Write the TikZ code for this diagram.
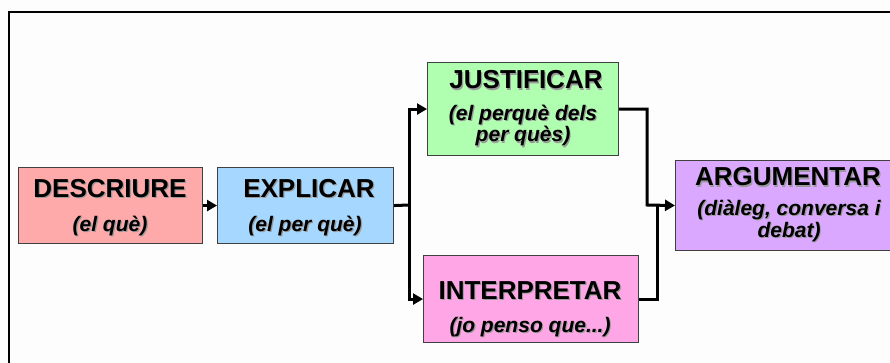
\documentclass[tikz,border=0pt]{standalone}
\usepackage{fontspec}
\setmainfont{Liberation Sans}
\usetikzlibrary{arrows.meta}
\definecolor{bgc}{HTML}{FDFDFD}
\definecolor{boxline}{HTML}{404040}
\definecolor{cdesc}{HTML}{FFAAAA}
\definecolor{cexpl}{HTML}{A6D8FF}
\definecolor{cjust}{HTML}{B0FFB0}
\definecolor{cinterp}{HTML}{FFA6E6}
\definecolor{carg}{HTML}{DAA8FF}
\definecolor{shadowc}{HTML}{9A9A9A}
\newcommand\shd[1]{\leavevmode\rlap{\raisebox{-1.2pt}{\hspace{1.2pt}\textcolor{shadowc}{#1}}}#1}
\newcommand\ttl[1]{\fontsize{26}{28}\selectfont\bfseries\shd{#1}}
\newcommand\sbtf{\fontsize{21}{17}\selectfont\bfseries\itshape}
\tikzset{
  box/.style={draw=boxline, line width=1.1pt, anchor=north west, inner sep=0pt},
  title/.style={anchor=base, inner sep=0pt},
  sub/.style={anchor=base, inner sep=0pt, align=center, font=\sbtf},
  conn/.style={line width=3pt, draw=black},
  arr/.style={conn, -{Triangle[length=10pt,width=11pt]}},
}
\begin{document}
\begin{tikzpicture}[x=1pt,y=-1pt]
\useasboundingbox (0,0) rectangle (890,363);
\fill[bgc] (0,0) rectangle (890,363);
\draw[line width=2.2pt] (9,370) -- (9,12) -- (895,12);
% boxes
\node[box, fill=cdesc, minimum width=184pt, minimum height=76pt] (desc) at (18,167) {};
\node[box, fill=cexpl, minimum width=176pt, minimum height=76pt] (expl) at (217,167) {};
\node[box, fill=cjust, minimum width=191pt, minimum height=93pt] (just) at (427,62) {};
\node[box, fill=cinterp, minimum width=215pt, minimum height=87pt] (interp) at (423,255) {};
\node[box, fill=carg, minimum width=230pt, minimum height=90pt] (arg) at (675,160) {};
% texts
\node[title] (desct) at (110,197) {\ttl{DESCRIURE}};
\node[sub] (descs) at (110,231) {\shd{(el què)}};
\node[title] (explt) at (309,197) {\ttl{EXPLICAR}};
\node[sub] (expls) at (305,231) {\shd{(el per què)}};
\node[title] (justt) at (526,89) {\ttl{JUSTIFICAR}};
\node[sub] (justs) at (523,142) {\shd{(el perquè dels}\\\shd{per quès)}};
\node[title] (interpt) at (530,299) {\ttl{INTERPRETAR}};
\node[sub] (interps) at (530,332) {\shd{(jo penso que...)}};
\node[title] (argt) at (788,186) {\ttl{ARGUMENTAR}};
\node[sub] (args) at (789,237) {\shd{(diàleg, conversa i}\\\shd{debat)}};
% connectors
\coordinate (br) at (409,205);
\coordinate (m1) at (647,205);
\coordinate (m2) at (657,205);
\draw[arr] (desc.east) -- (expl.west);
\draw[conn] (expl.east) -- (br);
\draw[arr] (br) |- (just.west);
\draw[arr] (br) |- (interp.west);
\draw[arr] (just.east) -| (m1) -- (arg.west);
\draw[conn] (interp.east) -| (m2);
\end{tikzpicture}
\end{document}
